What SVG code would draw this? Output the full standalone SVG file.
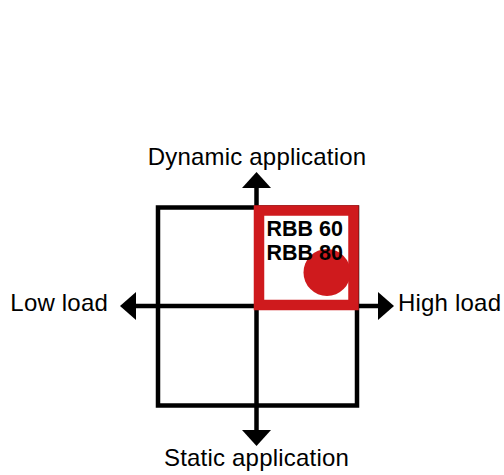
<svg xmlns="http://www.w3.org/2000/svg" width="504" height="475" viewBox="0 0 504 475">
<style>
.lbl{font-family:"Liberation Sans",Arial,sans-serif;font-size:24px;letter-spacing:0.2px;fill:#000}
.bold{font-family:"Liberation Sans",Arial,sans-serif;font-size:21.5px;font-weight:bold;fill:#000}
.ax{stroke:#000;stroke-width:4.5;fill:none}
.head{fill:#000}
</style>
<rect width="504" height="475" fill="#fff"/>
<g id="grid">
<rect x="158" y="207.5" width="199" height="198" fill="none" stroke="#000" stroke-width="4.5"/>
</g>
<g id="connectors">
<line class="ax" x1="256.5" y1="186" x2="256.5" y2="432"/>
<line class="ax" x1="134" y1="306" x2="379" y2="306"/>
<polygon class="head" points="256.5,172 271,188 242,188"/>
<polygon class="head" points="256.5,446 271,430 242,430"/>
<polygon class="head" points="120,306 136,292 136,320"/>
<polygon class="head" points="394,306 378,292 378,320"/>
</g>
<g id="highlight">
<rect x="259" y="210.5" width="94.5" height="94.5" fill="#fff" stroke="#CF1A1D" stroke-width="10.5"/>
<circle cx="327" cy="272.5" r="23.5" fill="#CF1A1D"/>
<text class="bold" x="266.5" y="236">RBB 60</text>
<text class="bold" x="266.5" y="259.5">RBB 80</text>
</g>
<g id="label-top"><text class="lbl" x="257" y="165" text-anchor="middle">Dynamic application</text></g>
<g id="label-bottom"><text class="lbl" x="256.5" y="466" text-anchor="middle">Static application</text></g>
<g id="label-left"><text class="lbl" x="108" y="311" text-anchor="end">Low load</text></g>
<g id="label-right"><text class="lbl" x="398" y="311">High load</text></g>
</svg>
